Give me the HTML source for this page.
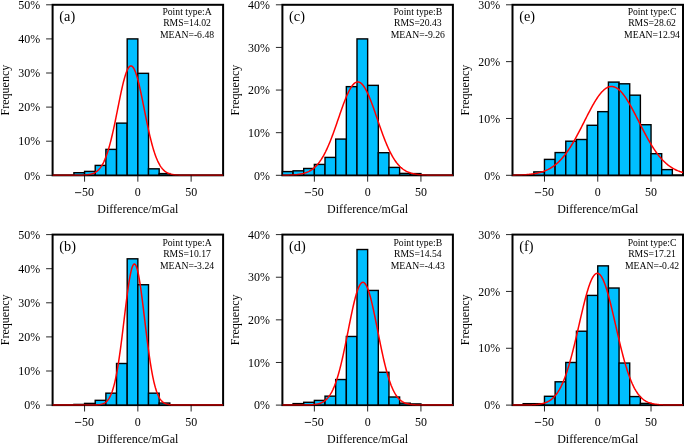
<!DOCTYPE html><html><head><meta charset="utf-8"><style>html,body{margin:0;padding:0;background:#fff;overflow:hidden}svg{display:block;will-change:transform}text{font-family:"Liberation Serif",serif;fill:#000}</style></head><body>
<svg width="685" height="444" viewBox="0 0 685 444">
<rect x="52.60" y="4.80" width="170.50" height="170.50" fill="none" stroke="#000" stroke-width="2"/>
<rect x="73.91" y="172.71" width="10.66" height="2.59" fill="#00bfff" stroke="#000" stroke-width="1.4"/>
<rect x="84.57" y="171.41" width="10.66" height="3.89" fill="#00bfff" stroke="#000" stroke-width="1.4"/>
<rect x="95.22" y="165.41" width="10.66" height="9.89" fill="#00bfff" stroke="#000" stroke-width="1.4"/>
<rect x="105.88" y="149.38" width="10.66" height="25.92" fill="#00bfff" stroke="#000" stroke-width="1.4"/>
<rect x="116.54" y="123.13" width="10.66" height="52.17" fill="#00bfff" stroke="#000" stroke-width="1.4"/>
<rect x="127.19" y="38.90" width="10.66" height="136.40" fill="#00bfff" stroke="#000" stroke-width="1.4"/>
<rect x="137.85" y="73.34" width="10.66" height="101.96" fill="#00bfff" stroke="#000" stroke-width="1.4"/>
<rect x="148.51" y="168.82" width="10.66" height="6.48" fill="#00bfff" stroke="#000" stroke-width="1.4"/>
<rect x="159.16" y="173.59" width="10.66" height="1.71" fill="#00bfff" stroke="#000" stroke-width="1.4"/>
<polyline points="52.60,175.30 53.13,175.30 53.67,175.30 54.20,175.30 54.73,175.30 55.26,175.30 55.80,175.30 56.33,175.30 56.86,175.30 57.40,175.30 57.93,175.30 58.46,175.30 58.99,175.30 59.53,175.30 60.06,175.30 60.59,175.30 61.12,175.30 61.66,175.30 62.19,175.30 62.72,175.30 63.26,175.30 63.79,175.30 64.32,175.30 64.85,175.30 65.39,175.30 65.92,175.30 66.45,175.30 66.99,175.30 67.52,175.30 68.05,175.30 68.58,175.30 69.12,175.30 69.65,175.30 70.18,175.30 70.72,175.30 71.25,175.30 71.78,175.29 72.31,175.29 72.85,175.29 73.38,175.29 73.91,175.29 74.45,175.29 74.98,175.29 75.51,175.28 76.04,175.28 76.58,175.28 77.11,175.27 77.64,175.27 78.18,175.26 78.71,175.25 79.24,175.25 79.77,175.24 80.31,175.23 80.84,175.21 81.37,175.20 81.90,175.18 82.44,175.17 82.97,175.14 83.50,175.12 84.04,175.09 84.57,175.06 85.10,175.03 85.63,174.98 86.17,174.94 86.70,174.89 87.23,174.83 87.77,174.76 88.30,174.68 88.83,174.60 89.36,174.51 89.90,174.40 90.43,174.28 90.96,174.15 91.50,174.00 92.03,173.84 92.56,173.65 93.09,173.45 93.63,173.23 94.16,172.98 94.69,172.71 95.22,172.41 95.76,172.08 96.29,171.72 96.82,171.33 97.36,170.90 97.89,170.43 98.42,169.92 98.95,169.37 99.49,168.77 100.02,168.12 100.55,167.42 101.09,166.67 101.62,165.86 102.15,164.99 102.68,164.05 103.22,163.05 103.75,161.99 104.28,160.86 104.82,159.65 105.35,158.37 105.88,157.02 106.41,155.59 106.95,154.09 107.48,152.50 108.01,150.84 108.55,149.10 109.08,147.27 109.61,145.37 110.14,143.40 110.68,141.35 111.21,139.22 111.74,137.02 112.28,134.76 112.81,132.43 113.34,130.04 113.87,127.60 114.41,125.10 114.94,122.56 115.47,119.98 116.00,117.36 116.54,114.72 117.07,112.07 117.60,109.40 118.14,106.73 118.67,104.07 119.20,101.43 119.73,98.81 120.27,96.22 120.80,93.68 121.33,91.20 121.87,88.78 122.40,86.43 122.93,84.17 123.46,82.00 124.00,79.94 124.53,77.98 125.06,76.15 125.60,74.44 126.13,72.88 126.66,71.45 127.19,70.18 127.73,69.06 128.26,68.10 128.79,67.31 129.33,66.69 129.86,66.25 130.39,65.97 130.92,65.88 131.46,65.96 131.99,66.22 132.52,66.65 133.05,67.26 133.59,68.03 134.12,68.98 134.65,70.08 135.19,71.34 135.72,72.76 136.25,74.31 136.78,76.01 137.32,77.83 137.85,79.78 138.38,81.83 138.92,83.99 139.45,86.25 139.98,88.59 140.51,91.00 141.05,93.48 141.58,96.02 142.11,98.60 142.65,101.21 143.18,103.86 143.71,106.52 144.24,109.19 144.78,111.85 145.31,114.51 145.84,117.15 146.38,119.77 146.91,122.35 147.44,124.90 147.97,127.40 148.51,129.85 149.04,132.24 149.57,134.58 150.10,136.85 150.64,139.05 151.17,141.18 151.70,143.24 152.24,145.22 152.77,147.12 153.30,148.95 153.83,150.70 154.37,152.37 154.90,153.96 155.43,155.47 155.97,156.91 156.50,158.27 157.03,159.55 157.56,160.76 158.10,161.90 158.63,162.97 159.16,163.98 159.70,164.91 160.23,165.79 160.76,166.60 161.29,167.36 161.83,168.07 162.36,168.72 162.89,169.32 163.43,169.88 163.96,170.39 164.49,170.86 165.02,171.30 165.56,171.69 166.09,172.06 166.62,172.39 167.15,172.69 167.69,172.96 168.22,173.21 168.75,173.44 169.29,173.64 169.82,173.82 170.35,173.99 170.88,174.14 171.42,174.27 171.95,174.39 172.48,174.50 173.02,174.59 173.55,174.68 174.08,174.75 174.61,174.82 175.15,174.88 175.68,174.93 176.21,174.98 176.75,175.02 177.28,175.06 177.81,175.09 178.34,175.12 178.88,175.14 179.41,175.16 179.94,175.18 180.47,175.20 181.01,175.21 181.54,175.23 182.07,175.24 182.61,175.25 183.14,175.25 183.67,175.26 184.20,175.27 184.74,175.27 185.27,175.28 185.80,175.28 186.34,175.28 186.87,175.29 187.40,175.29 187.93,175.29 188.47,175.29 189.00,175.29 189.53,175.29 190.07,175.29 190.60,175.30 191.13,175.30 191.66,175.30 192.20,175.30 192.73,175.30 193.26,175.30 193.80,175.30 194.33,175.30 194.86,175.30 195.39,175.30 195.93,175.30 196.46,175.30 196.99,175.30 197.53,175.30 198.06,175.30 198.59,175.30 199.12,175.30 199.66,175.30 200.19,175.30 200.72,175.30 201.25,175.30 201.79,175.30 202.32,175.30 202.85,175.30 203.39,175.30 203.92,175.30 204.45,175.30 204.98,175.30 205.52,175.30 206.05,175.30 206.58,175.30 207.12,175.30 207.65,175.30 208.18,175.30 208.71,175.30 209.25,175.30 209.78,175.30 210.31,175.30 210.85,175.30 211.38,175.30 211.91,175.30 212.44,175.30 212.98,175.30 213.51,175.30 214.04,175.30 214.57,175.30 215.11,175.30 215.64,175.30 216.17,175.30 216.71,175.30 217.24,175.30 217.77,175.30 218.30,175.30 218.84,175.30 219.37,175.30 219.90,175.30 220.44,175.30 220.97,175.30 221.50,175.30 222.03,175.30 222.57,175.30 223.10,175.30" fill="none" stroke="#f00" stroke-width="1.5" stroke-linejoin="round"/>
<line x1="52.60" y1="175.30" x2="223.10" y2="175.30" stroke="#000" stroke-width="1.4" opacity="0.45"/>
<line x1="46.10" y1="175.30" x2="52.60" y2="175.30" stroke="#000" stroke-width="0.85"/>
<text transform="translate(40.20,179.50) scale(0.965,1)" font-size="12.4" text-anchor="end">0%</text>
<line x1="46.10" y1="141.20" x2="52.60" y2="141.20" stroke="#000" stroke-width="0.85"/>
<text transform="translate(40.20,145.40) scale(0.965,1)" font-size="12.4" text-anchor="end">10%</text>
<line x1="46.10" y1="107.10" x2="52.60" y2="107.10" stroke="#000" stroke-width="0.85"/>
<text transform="translate(40.20,111.30) scale(0.965,1)" font-size="12.4" text-anchor="end">20%</text>
<line x1="46.10" y1="73.00" x2="52.60" y2="73.00" stroke="#000" stroke-width="0.85"/>
<text transform="translate(40.20,77.20) scale(0.965,1)" font-size="12.4" text-anchor="end">30%</text>
<line x1="46.10" y1="38.90" x2="52.60" y2="38.90" stroke="#000" stroke-width="0.85"/>
<text transform="translate(40.20,43.10) scale(0.965,1)" font-size="12.4" text-anchor="end">40%</text>
<line x1="46.10" y1="4.80" x2="52.60" y2="4.80" stroke="#000" stroke-width="0.85"/>
<text transform="translate(40.20,9.00) scale(0.965,1)" font-size="12.4" text-anchor="end">50%</text>
<line x1="84.57" y1="175.30" x2="84.57" y2="181.70" stroke="#000" stroke-width="0.85"/>
<text transform="translate(93.96,196.10) scale(0.965,1)" font-size="12.4" text-anchor="end">50</text>
<line x1="75.02" y1="192.65" x2="81.27" y2="192.65" stroke="#111" stroke-width="0.9"/>
<line x1="137.85" y1="175.30" x2="137.85" y2="181.70" stroke="#000" stroke-width="0.85"/>
<text transform="translate(137.85,196.10) scale(0.965,1)" font-size="12.4" text-anchor="middle">0</text>
<line x1="191.13" y1="175.30" x2="191.13" y2="181.70" stroke="#000" stroke-width="0.85"/>
<text transform="translate(191.13,196.10) scale(0.965,1)" font-size="12.4" text-anchor="middle">50</text>
<text x="137.85" y="213.20" font-size="12" text-anchor="middle">Difference/mGal</text>
<text x="0" y="0" font-size="12" text-anchor="middle" transform="translate(9.10,90.05) rotate(-90)">Frequency</text>
<text x="59.30" y="21.30" font-size="14.3">(a)</text>
<text x="187.00" y="15.20" font-size="9.7" text-anchor="middle">Point type:A</text>
<text x="187.00" y="26.40" font-size="9.7" text-anchor="middle">RMS=14.02</text>
<text x="187.00" y="37.90" font-size="9.7" text-anchor="middle">MEAN=-6.48</text>
<rect x="282.40" y="4.80" width="170.50" height="170.50" fill="none" stroke="#000" stroke-width="2"/>
<rect x="282.40" y="171.59" width="10.66" height="3.71" fill="#00bfff" stroke="#000" stroke-width="1.4"/>
<rect x="293.06" y="170.82" width="10.66" height="4.48" fill="#00bfff" stroke="#000" stroke-width="1.4"/>
<rect x="303.71" y="168.48" width="10.66" height="6.82" fill="#00bfff" stroke="#000" stroke-width="1.4"/>
<rect x="314.37" y="164.43" width="10.66" height="10.87" fill="#00bfff" stroke="#000" stroke-width="1.4"/>
<rect x="325.02" y="157.40" width="10.66" height="17.90" fill="#00bfff" stroke="#000" stroke-width="1.4"/>
<rect x="335.68" y="139.07" width="10.66" height="36.23" fill="#00bfff" stroke="#000" stroke-width="1.4"/>
<rect x="346.34" y="86.64" width="10.66" height="88.66" fill="#00bfff" stroke="#000" stroke-width="1.4"/>
<rect x="356.99" y="38.90" width="10.66" height="136.40" fill="#00bfff" stroke="#000" stroke-width="1.4"/>
<rect x="367.65" y="85.36" width="10.66" height="89.94" fill="#00bfff" stroke="#000" stroke-width="1.4"/>
<rect x="378.31" y="152.71" width="10.66" height="22.59" fill="#00bfff" stroke="#000" stroke-width="1.4"/>
<rect x="388.96" y="167.41" width="10.66" height="7.89" fill="#00bfff" stroke="#000" stroke-width="1.4"/>
<rect x="399.62" y="173.38" width="10.66" height="1.92" fill="#00bfff" stroke="#000" stroke-width="1.4"/>
<rect x="410.27" y="173.59" width="10.66" height="1.71" fill="#00bfff" stroke="#000" stroke-width="1.4"/>
<polyline points="282.40,175.25 282.93,175.25 283.47,175.24 284.00,175.23 284.53,175.22 285.06,175.22 285.60,175.21 286.13,175.20 286.66,175.19 287.20,175.17 287.73,175.16 288.26,175.15 288.79,175.13 289.33,175.11 289.86,175.10 290.39,175.08 290.92,175.05 291.46,175.03 291.99,175.00 292.52,174.97 293.06,174.94 293.59,174.91 294.12,174.87 294.65,174.83 295.19,174.79 295.72,174.74 296.25,174.69 296.79,174.63 297.32,174.57 297.85,174.51 298.38,174.44 298.92,174.36 299.45,174.28 299.98,174.19 300.52,174.10 301.05,174.00 301.58,173.89 302.11,173.77 302.65,173.65 303.18,173.52 303.71,173.37 304.25,173.22 304.78,173.06 305.31,172.89 305.84,172.70 306.38,172.50 306.91,172.29 307.44,172.07 307.97,171.83 308.51,171.58 309.04,171.32 309.57,171.03 310.11,170.73 310.64,170.42 311.17,170.08 311.70,169.73 312.24,169.35 312.77,168.96 313.30,168.55 313.84,168.11 314.37,167.65 314.90,167.17 315.43,166.67 315.97,166.14 316.50,165.58 317.03,165.00 317.57,164.39 318.10,163.76 318.63,163.10 319.16,162.41 319.70,161.69 320.23,160.94 320.76,160.16 321.30,159.36 321.83,158.52 322.36,157.65 322.89,156.75 323.43,155.82 323.96,154.85 324.49,153.86 325.02,152.83 325.56,151.78 326.09,150.69 326.62,149.57 327.16,148.42 327.69,147.24 328.22,146.03 328.75,144.79 329.29,143.53 329.82,142.23 330.35,140.91 330.89,139.56 331.42,138.19 331.95,136.80 332.48,135.38 333.02,133.94 333.55,132.48 334.08,131.00 334.62,129.51 335.15,128.00 335.68,126.48 336.21,124.95 336.75,123.41 337.28,121.86 337.81,120.31 338.35,118.75 338.88,117.20 339.41,115.65 339.94,114.10 340.48,112.56 341.01,111.03 341.54,109.51 342.07,108.01 342.61,106.52 343.14,105.05 343.67,103.61 344.21,102.19 344.74,100.80 345.27,99.44 345.80,98.12 346.34,96.83 346.87,95.58 347.40,94.37 347.94,93.20 348.47,92.08 349.00,91.01 349.53,89.99 350.07,89.02 350.60,88.10 351.13,87.25 351.67,86.45 352.20,85.71 352.73,85.03 353.26,84.42 353.80,83.87 354.33,83.39 354.86,82.97 355.40,82.63 355.93,82.35 356.46,82.14 356.99,82.00 357.53,81.93 358.06,81.93 358.59,82.00 359.12,82.15 359.66,82.36 360.19,82.64 360.72,82.99 361.26,83.41 361.79,83.89 362.32,84.44 362.85,85.06 363.39,85.74 363.92,86.48 364.45,87.28 364.99,88.14 365.52,89.06 366.05,90.03 366.58,91.05 367.12,92.12 367.65,93.25 368.18,94.41 368.72,95.63 369.25,96.88 369.78,98.17 370.31,99.50 370.85,100.86 371.38,102.25 371.91,103.67 372.45,105.11 372.98,106.58 373.51,108.06 374.04,109.57 374.58,111.09 375.11,112.62 375.64,114.16 376.17,115.71 376.71,117.26 377.24,118.82 377.77,120.37 378.31,121.92 378.84,123.47 379.37,125.01 379.90,126.54 380.44,128.06 380.97,129.57 381.50,131.06 382.04,132.54 382.57,134.00 383.10,135.43 383.63,136.85 384.17,138.25 384.70,139.62 385.23,140.96 385.77,142.28 386.30,143.58 386.83,144.84 387.36,146.08 387.90,147.29 388.43,148.47 388.96,149.62 389.50,150.73 390.03,151.82 390.56,152.88 391.09,153.90 391.63,154.89 392.16,155.85 392.69,156.78 393.22,157.68 393.76,158.55 394.29,159.39 394.82,160.20 395.36,160.97 395.89,161.72 396.42,162.44 396.95,163.13 397.49,163.79 398.02,164.42 398.55,165.03 399.09,165.60 399.62,166.16 400.15,166.69 400.68,167.19 401.22,167.67 401.75,168.13 402.28,168.56 402.82,168.98 403.35,169.37 403.88,169.74 404.41,170.10 404.95,170.43 405.48,170.75 406.01,171.04 406.55,171.33 407.08,171.59 407.61,171.84 408.14,172.08 408.68,172.30 409.21,172.51 409.74,172.71 410.27,172.89 410.81,173.07 411.34,173.23 411.87,173.38 412.41,173.52 412.94,173.66 413.47,173.78 414.00,173.90 414.54,174.00 415.07,174.10 415.60,174.20 416.14,174.28 416.67,174.37 417.20,174.44 417.73,174.51 418.27,174.57 418.80,174.63 419.33,174.69 419.87,174.74 420.40,174.79 420.93,174.83 421.46,174.87 422.00,174.91 422.53,174.94 423.06,174.97 423.60,175.00 424.13,175.03 424.66,175.05 425.19,175.08 425.73,175.10 426.26,175.12 426.79,175.13 427.32,175.15 427.86,175.16 428.39,175.18 428.92,175.19 429.46,175.20 429.99,175.21 430.52,175.22 431.05,175.23 431.59,175.23 432.12,175.24 432.65,175.25 433.19,175.25 433.72,175.26 434.25,175.26 434.78,175.26 435.32,175.27 435.85,175.27 436.38,175.27 436.92,175.28 437.45,175.28 437.98,175.28 438.51,175.28 439.05,175.29 439.58,175.29 440.11,175.29 440.65,175.29 441.18,175.29 441.71,175.29 442.24,175.29 442.78,175.29 443.31,175.29 443.84,175.29 444.38,175.30 444.91,175.30 445.44,175.30 445.97,175.30 446.51,175.30 447.04,175.30 447.57,175.30 448.10,175.30 448.64,175.30 449.17,175.30 449.70,175.30 450.24,175.30 450.77,175.30 451.30,175.30 451.83,175.30 452.37,175.30 452.90,175.30" fill="none" stroke="#f00" stroke-width="1.5" stroke-linejoin="round"/>
<line x1="282.40" y1="175.30" x2="452.90" y2="175.30" stroke="#000" stroke-width="1.4" opacity="0.45"/>
<line x1="275.90" y1="175.30" x2="282.40" y2="175.30" stroke="#000" stroke-width="0.85"/>
<text transform="translate(270.00,179.50) scale(0.965,1)" font-size="12.4" text-anchor="end">0%</text>
<line x1="275.90" y1="132.68" x2="282.40" y2="132.68" stroke="#000" stroke-width="0.85"/>
<text transform="translate(270.00,136.88) scale(0.965,1)" font-size="12.4" text-anchor="end">10%</text>
<line x1="275.90" y1="90.05" x2="282.40" y2="90.05" stroke="#000" stroke-width="0.85"/>
<text transform="translate(270.00,94.25) scale(0.965,1)" font-size="12.4" text-anchor="end">20%</text>
<line x1="275.90" y1="47.43" x2="282.40" y2="47.43" stroke="#000" stroke-width="0.85"/>
<text transform="translate(270.00,51.63) scale(0.965,1)" font-size="12.4" text-anchor="end">30%</text>
<line x1="275.90" y1="4.80" x2="282.40" y2="4.80" stroke="#000" stroke-width="0.85"/>
<text transform="translate(270.00,9.00) scale(0.965,1)" font-size="12.4" text-anchor="end">40%</text>
<line x1="314.37" y1="175.30" x2="314.37" y2="181.70" stroke="#000" stroke-width="0.85"/>
<text transform="translate(323.76,196.10) scale(0.965,1)" font-size="12.4" text-anchor="end">50</text>
<line x1="304.82" y1="192.65" x2="311.07" y2="192.65" stroke="#111" stroke-width="0.9"/>
<line x1="367.65" y1="175.30" x2="367.65" y2="181.70" stroke="#000" stroke-width="0.85"/>
<text transform="translate(367.65,196.10) scale(0.965,1)" font-size="12.4" text-anchor="middle">0</text>
<line x1="420.93" y1="175.30" x2="420.93" y2="181.70" stroke="#000" stroke-width="0.85"/>
<text transform="translate(420.93,196.10) scale(0.965,1)" font-size="12.4" text-anchor="middle">50</text>
<text x="367.65" y="213.20" font-size="12" text-anchor="middle">Difference/mGal</text>
<text x="0" y="0" font-size="12" text-anchor="middle" transform="translate(238.90,90.05) rotate(-90)">Frequency</text>
<text x="289.10" y="21.30" font-size="14.3">(c)</text>
<text x="417.80" y="15.20" font-size="9.7" text-anchor="middle">Point type:B</text>
<text x="417.80" y="26.40" font-size="9.7" text-anchor="middle">RMS=20.43</text>
<text x="417.80" y="37.90" font-size="9.7" text-anchor="middle">MEAN=-9.26</text>
<rect x="512.50" y="4.80" width="170.50" height="170.50" fill="none" stroke="#000" stroke-width="2"/>
<rect x="533.81" y="171.89" width="10.66" height="3.41" fill="#00bfff" stroke="#000" stroke-width="1.4"/>
<rect x="544.47" y="159.39" width="10.66" height="15.91" fill="#00bfff" stroke="#000" stroke-width="1.4"/>
<rect x="555.12" y="152.57" width="10.66" height="22.73" fill="#00bfff" stroke="#000" stroke-width="1.4"/>
<rect x="565.78" y="141.20" width="10.66" height="34.10" fill="#00bfff" stroke="#000" stroke-width="1.4"/>
<rect x="576.44" y="139.50" width="10.66" height="35.81" fill="#00bfff" stroke="#000" stroke-width="1.4"/>
<rect x="587.09" y="125.29" width="10.66" height="50.01" fill="#00bfff" stroke="#000" stroke-width="1.4"/>
<rect x="597.75" y="111.65" width="10.66" height="63.65" fill="#00bfff" stroke="#000" stroke-width="1.4"/>
<rect x="608.41" y="82.09" width="10.66" height="93.21" fill="#00bfff" stroke="#000" stroke-width="1.4"/>
<rect x="619.06" y="83.80" width="10.66" height="91.50" fill="#00bfff" stroke="#000" stroke-width="1.4"/>
<rect x="629.72" y="95.17" width="10.66" height="80.14" fill="#00bfff" stroke="#000" stroke-width="1.4"/>
<rect x="640.38" y="124.72" width="10.66" height="50.58" fill="#00bfff" stroke="#000" stroke-width="1.4"/>
<rect x="651.03" y="153.70" width="10.66" height="21.60" fill="#00bfff" stroke="#000" stroke-width="1.4"/>
<rect x="661.69" y="169.62" width="10.66" height="5.68" fill="#00bfff" stroke="#000" stroke-width="1.4"/>
<polyline points="512.50,175.18 513.03,175.17 513.57,175.16 514.10,175.15 514.63,175.14 515.16,175.13 515.70,175.12 516.23,175.11 516.76,175.09 517.30,175.08 517.83,175.06 518.36,175.05 518.89,175.03 519.43,175.01 519.96,174.99 520.49,174.97 521.02,174.95 521.56,174.93 522.09,174.90 522.62,174.87 523.16,174.85 523.69,174.82 524.22,174.79 524.75,174.75 525.29,174.72 525.82,174.68 526.35,174.64 526.89,174.60 527.42,174.56 527.95,174.51 528.48,174.46 529.02,174.41 529.55,174.35 530.08,174.30 530.62,174.24 531.15,174.17 531.68,174.11 532.21,174.04 532.75,173.96 533.28,173.88 533.81,173.80 534.35,173.72 534.88,173.63 535.41,173.53 535.94,173.43 536.48,173.33 537.01,173.22 537.54,173.10 538.08,172.98 538.61,172.86 539.14,172.73 539.67,172.59 540.21,172.45 540.74,172.30 541.27,172.14 541.80,171.98 542.34,171.81 542.87,171.63 543.40,171.44 543.94,171.25 544.47,171.05 545.00,170.84 545.53,170.62 546.07,170.40 546.60,170.16 547.13,169.91 547.67,169.66 548.20,169.40 548.73,169.12 549.26,168.84 549.80,168.54 550.33,168.24 550.86,167.92 551.40,167.59 551.93,167.25 552.46,166.90 552.99,166.54 553.53,166.16 554.06,165.77 554.59,165.37 555.12,164.96 555.66,164.53 556.19,164.09 556.72,163.64 557.26,163.17 557.79,162.69 558.32,162.19 558.85,161.69 559.39,161.16 559.92,160.62 560.45,160.07 560.99,159.50 561.52,158.92 562.05,158.32 562.58,157.71 563.12,157.08 563.65,156.44 564.18,155.78 564.72,155.11 565.25,154.42 565.78,153.72 566.31,153.00 566.85,152.27 567.38,151.52 567.91,150.75 568.45,149.97 568.98,149.18 569.51,148.37 570.04,147.55 570.58,146.72 571.11,145.87 571.64,145.00 572.17,144.13 572.71,143.24 573.24,142.33 573.77,141.42 574.31,140.49 574.84,139.55 575.37,138.60 575.90,137.64 576.44,136.67 576.97,135.69 577.50,134.70 578.04,133.70 578.57,132.69 579.10,131.67 579.63,130.65 580.17,129.62 580.70,128.59 581.23,127.55 581.77,126.50 582.30,125.46 582.83,124.41 583.36,123.35 583.90,122.30 584.43,121.24 584.96,120.19 585.50,119.14 586.03,118.08 586.56,117.03 587.09,115.99 587.63,114.95 588.16,113.91 588.69,112.88 589.23,111.86 589.76,110.84 590.29,109.83 590.82,108.84 591.36,107.85 591.89,106.88 592.42,105.92 592.95,104.97 593.49,104.03 594.02,103.12 594.55,102.21 595.09,101.33 595.62,100.46 596.15,99.61 596.68,98.78 597.22,97.98 597.75,97.19 598.28,96.43 598.82,95.68 599.35,94.97 599.88,94.27 600.41,93.61 600.95,92.97 601.48,92.35 602.01,91.76 602.55,91.21 603.08,90.68 603.61,90.17 604.14,89.70 604.68,89.26 605.21,88.85 605.74,88.48 606.27,88.13 606.81,87.82 607.34,87.53 607.87,87.28 608.41,87.07 608.94,86.89 609.47,86.74 610.00,86.62 610.54,86.54 611.07,86.49 611.60,86.48 612.14,86.50 612.67,86.56 613.20,86.65 613.73,86.77 614.27,86.93 614.80,87.12 615.33,87.34 615.87,87.60 616.40,87.89 616.93,88.21 617.46,88.56 618.00,88.95 618.53,89.37 619.06,89.81 619.60,90.29 620.13,90.80 620.66,91.34 621.19,91.90 621.73,92.50 622.26,93.12 622.79,93.77 623.33,94.44 623.86,95.14 624.39,95.86 624.92,96.61 625.46,97.38 625.99,98.17 626.52,98.98 627.05,99.81 627.59,100.67 628.12,101.54 628.65,102.43 629.19,103.33 629.72,104.26 630.25,105.19 630.78,106.15 631.32,107.11 631.85,108.09 632.38,109.08 632.92,110.08 633.45,111.08 633.98,112.10 634.51,113.13 635.05,114.16 635.58,115.20 636.11,116.24 636.65,117.29 637.18,118.34 637.71,119.39 638.24,120.44 638.78,121.50 639.31,122.55 639.84,123.61 640.38,124.66 640.91,125.71 641.44,126.76 641.97,127.80 642.51,128.84 643.04,129.87 643.57,130.90 644.10,131.92 644.64,132.93 645.17,133.94 645.70,134.94 646.24,135.92 646.77,136.90 647.30,137.87 647.83,138.83 648.37,139.78 648.90,140.71 649.43,141.64 649.97,142.55 650.50,143.45 651.03,144.34 651.56,145.21 652.10,146.07 652.63,146.92 653.16,147.75 653.70,148.57 654.23,149.37 654.76,150.16 655.29,150.94 655.83,151.70 656.36,152.44 656.89,153.17 657.42,153.89 657.96,154.59 658.49,155.27 659.02,155.94 659.56,156.60 660.09,157.24 660.62,157.86 661.15,158.47 661.69,159.06 662.22,159.64 662.75,160.20 663.29,160.75 663.82,161.29 664.35,161.81 664.88,162.31 665.42,162.81 665.95,163.28 666.48,163.75 667.02,164.20 667.55,164.64 668.08,165.06 668.61,165.47 669.15,165.87 669.68,166.25 670.21,166.62 670.75,166.98 671.28,167.33 671.81,167.67 672.34,168.00 672.88,168.31 673.41,168.61 673.94,168.91 674.48,169.19 675.01,169.46 675.54,169.72 676.07,169.97 676.61,170.22 677.14,170.45 677.67,170.67 678.20,170.89 678.74,171.10 679.27,171.30 679.80,171.49 680.34,171.67 680.87,171.85 681.40,172.02 681.93,172.18 682.47,172.33 683.00,172.48" fill="none" stroke="#f00" stroke-width="1.5" stroke-linejoin="round"/>
<line x1="512.50" y1="175.30" x2="683.00" y2="175.30" stroke="#000" stroke-width="1.4" opacity="0.45"/>
<line x1="506.00" y1="175.30" x2="512.50" y2="175.30" stroke="#000" stroke-width="0.85"/>
<text transform="translate(500.10,179.50) scale(0.965,1)" font-size="12.4" text-anchor="end">0%</text>
<line x1="506.00" y1="118.47" x2="512.50" y2="118.47" stroke="#000" stroke-width="0.85"/>
<text transform="translate(500.10,122.67) scale(0.965,1)" font-size="12.4" text-anchor="end">10%</text>
<line x1="506.00" y1="61.63" x2="512.50" y2="61.63" stroke="#000" stroke-width="0.85"/>
<text transform="translate(500.10,65.83) scale(0.965,1)" font-size="12.4" text-anchor="end">20%</text>
<line x1="506.00" y1="4.80" x2="512.50" y2="4.80" stroke="#000" stroke-width="0.85"/>
<text transform="translate(500.10,9.00) scale(0.965,1)" font-size="12.4" text-anchor="end">30%</text>
<line x1="544.47" y1="175.30" x2="544.47" y2="181.70" stroke="#000" stroke-width="0.85"/>
<text transform="translate(553.86,196.10) scale(0.965,1)" font-size="12.4" text-anchor="end">50</text>
<line x1="534.92" y1="192.65" x2="541.17" y2="192.65" stroke="#111" stroke-width="0.9"/>
<line x1="597.75" y1="175.30" x2="597.75" y2="181.70" stroke="#000" stroke-width="0.85"/>
<text transform="translate(597.75,196.10) scale(0.965,1)" font-size="12.4" text-anchor="middle">0</text>
<line x1="651.03" y1="175.30" x2="651.03" y2="181.70" stroke="#000" stroke-width="0.85"/>
<text transform="translate(651.03,196.10) scale(0.965,1)" font-size="12.4" text-anchor="middle">50</text>
<text x="597.75" y="213.20" font-size="12" text-anchor="middle">Difference/mGal</text>
<text x="0" y="0" font-size="12" text-anchor="middle" transform="translate(469.00,90.05) rotate(-90)">Frequency</text>
<text x="519.20" y="21.30" font-size="14.3">(e)</text>
<text x="652.00" y="15.20" font-size="9.7" text-anchor="middle">Point type:C</text>
<text x="652.00" y="26.40" font-size="9.7" text-anchor="middle">RMS=28.62</text>
<text x="652.00" y="37.90" font-size="9.7" text-anchor="middle">MEAN=12.94</text>
<rect x="52.60" y="234.60" width="170.50" height="170.50" fill="none" stroke="#000" stroke-width="2"/>
<rect x="73.91" y="404.42" width="10.66" height="0.68" fill="#00bfff" stroke="#000" stroke-width="1.4"/>
<rect x="84.57" y="403.40" width="10.66" height="1.70" fill="#00bfff" stroke="#000" stroke-width="1.4"/>
<rect x="95.22" y="400.33" width="10.66" height="4.77" fill="#00bfff" stroke="#000" stroke-width="1.4"/>
<rect x="105.88" y="393.17" width="10.66" height="11.94" fill="#00bfff" stroke="#000" stroke-width="1.4"/>
<rect x="116.54" y="363.50" width="10.66" height="41.60" fill="#00bfff" stroke="#000" stroke-width="1.4"/>
<rect x="127.19" y="258.81" width="10.66" height="146.29" fill="#00bfff" stroke="#000" stroke-width="1.4"/>
<rect x="137.85" y="284.73" width="10.66" height="120.37" fill="#00bfff" stroke="#000" stroke-width="1.4"/>
<rect x="148.51" y="393.17" width="10.66" height="11.94" fill="#00bfff" stroke="#000" stroke-width="1.4"/>
<rect x="159.16" y="403.05" width="10.66" height="2.05" fill="#00bfff" stroke="#000" stroke-width="1.4"/>
<polyline points="52.60,405.10 53.13,405.10 53.67,405.10 54.20,405.10 54.73,405.10 55.26,405.10 55.80,405.10 56.33,405.10 56.86,405.10 57.40,405.10 57.93,405.10 58.46,405.10 58.99,405.10 59.53,405.10 60.06,405.10 60.59,405.10 61.12,405.10 61.66,405.10 62.19,405.10 62.72,405.10 63.26,405.10 63.79,405.10 64.32,405.10 64.85,405.10 65.39,405.10 65.92,405.10 66.45,405.10 66.99,405.10 67.52,405.10 68.05,405.10 68.58,405.10 69.12,405.10 69.65,405.10 70.18,405.10 70.72,405.10 71.25,405.10 71.78,405.10 72.31,405.10 72.85,405.10 73.38,405.10 73.91,405.10 74.45,405.10 74.98,405.10 75.51,405.10 76.04,405.10 76.58,405.10 77.11,405.10 77.64,405.10 78.18,405.10 78.71,405.10 79.24,405.10 79.77,405.10 80.31,405.10 80.84,405.10 81.37,405.10 81.90,405.10 82.44,405.10 82.97,405.10 83.50,405.10 84.04,405.10 84.57,405.10 85.10,405.10 85.63,405.10 86.17,405.10 86.70,405.10 87.23,405.10 87.77,405.10 88.30,405.09 88.83,405.09 89.36,405.09 89.90,405.09 90.43,405.09 90.96,405.08 91.50,405.08 92.03,405.07 92.56,405.06 93.09,405.06 93.63,405.05 94.16,405.03 94.69,405.02 95.22,405.00 95.76,404.98 96.29,404.95 96.82,404.92 97.36,404.89 97.89,404.84 98.42,404.79 98.95,404.73 99.49,404.66 100.02,404.58 100.55,404.48 101.09,404.37 101.62,404.23 102.15,404.08 102.68,403.90 103.22,403.69 103.75,403.45 104.28,403.18 104.82,402.87 105.35,402.51 105.88,402.11 106.41,401.65 106.95,401.13 107.48,400.54 108.01,399.89 108.55,399.15 109.08,398.33 109.61,397.42 110.14,396.41 110.68,395.29 111.21,394.05 111.74,392.70 112.28,391.22 112.81,389.60 113.34,387.83 113.87,385.92 114.41,383.86 114.94,381.63 115.47,379.24 116.00,376.69 116.54,373.97 117.07,371.07 117.60,368.01 118.14,364.79 118.67,361.40 119.20,357.85 119.73,354.15 120.27,350.31 120.80,346.33 121.33,342.24 121.87,338.04 122.40,333.76 122.93,329.41 123.46,325.00 124.00,320.57 124.53,316.13 125.06,311.72 125.60,307.34 126.13,303.04 126.66,298.83 127.19,294.74 127.73,290.81 128.26,287.05 128.79,283.50 129.33,280.18 129.86,277.11 130.39,274.32 130.92,271.82 131.46,269.65 131.99,267.81 132.52,266.31 133.05,265.18 133.59,264.42 134.12,264.03 134.65,264.03 135.19,264.40 135.72,265.14 136.25,266.26 136.78,267.74 137.32,269.57 137.85,271.73 138.38,274.21 138.92,276.99 139.45,280.05 139.98,283.36 140.51,286.91 141.05,290.65 141.58,294.58 142.11,298.66 142.65,302.86 143.18,307.17 143.71,311.54 144.24,315.96 144.78,320.39 145.31,324.83 145.84,329.23 146.38,333.59 146.91,337.88 147.44,342.07 147.97,346.17 148.51,350.15 149.04,354.00 149.57,357.70 150.10,361.26 150.64,364.65 151.17,367.89 151.70,370.96 152.24,373.85 152.77,376.58 153.30,379.14 153.83,381.54 154.37,383.77 154.90,385.84 155.43,387.76 155.97,389.53 156.50,391.15 157.03,392.64 157.56,394.00 158.10,395.24 158.63,396.36 159.16,397.38 159.70,398.30 160.23,399.12 160.76,399.86 161.29,400.52 161.83,401.11 162.36,401.63 162.89,402.09 163.43,402.50 163.96,402.85 164.49,403.17 165.02,403.44 165.56,403.68 166.09,403.89 166.62,404.07 167.15,404.23 167.69,404.36 168.22,404.48 168.75,404.57 169.29,404.66 169.82,404.73 170.35,404.79 170.88,404.84 171.42,404.89 171.95,404.92 172.48,404.95 173.02,404.98 173.55,405.00 174.08,405.02 174.61,405.03 175.15,405.05 175.68,405.06 176.21,405.06 176.75,405.07 177.28,405.08 177.81,405.08 178.34,405.09 178.88,405.09 179.41,405.09 179.94,405.09 180.47,405.09 181.01,405.10 181.54,405.10 182.07,405.10 182.61,405.10 183.14,405.10 183.67,405.10 184.20,405.10 184.74,405.10 185.27,405.10 185.80,405.10 186.34,405.10 186.87,405.10 187.40,405.10 187.93,405.10 188.47,405.10 189.00,405.10 189.53,405.10 190.07,405.10 190.60,405.10 191.13,405.10 191.66,405.10 192.20,405.10 192.73,405.10 193.26,405.10 193.80,405.10 194.33,405.10 194.86,405.10 195.39,405.10 195.93,405.10 196.46,405.10 196.99,405.10 197.53,405.10 198.06,405.10 198.59,405.10 199.12,405.10 199.66,405.10 200.19,405.10 200.72,405.10 201.25,405.10 201.79,405.10 202.32,405.10 202.85,405.10 203.39,405.10 203.92,405.10 204.45,405.10 204.98,405.10 205.52,405.10 206.05,405.10 206.58,405.10 207.12,405.10 207.65,405.10 208.18,405.10 208.71,405.10 209.25,405.10 209.78,405.10 210.31,405.10 210.85,405.10 211.38,405.10 211.91,405.10 212.44,405.10 212.98,405.10 213.51,405.10 214.04,405.10 214.57,405.10 215.11,405.10 215.64,405.10 216.17,405.10 216.71,405.10 217.24,405.10 217.77,405.10 218.30,405.10 218.84,405.10 219.37,405.10 219.90,405.10 220.44,405.10 220.97,405.10 221.50,405.10 222.03,405.10 222.57,405.10 223.10,405.10" fill="none" stroke="#f00" stroke-width="1.5" stroke-linejoin="round"/>
<line x1="52.60" y1="405.10" x2="223.10" y2="405.10" stroke="#000" stroke-width="1.4" opacity="0.45"/>
<line x1="46.10" y1="405.10" x2="52.60" y2="405.10" stroke="#000" stroke-width="0.85"/>
<text transform="translate(40.20,409.30) scale(0.965,1)" font-size="12.4" text-anchor="end">0%</text>
<line x1="46.10" y1="371.00" x2="52.60" y2="371.00" stroke="#000" stroke-width="0.85"/>
<text transform="translate(40.20,375.20) scale(0.965,1)" font-size="12.4" text-anchor="end">10%</text>
<line x1="46.10" y1="336.90" x2="52.60" y2="336.90" stroke="#000" stroke-width="0.85"/>
<text transform="translate(40.20,341.10) scale(0.965,1)" font-size="12.4" text-anchor="end">20%</text>
<line x1="46.10" y1="302.80" x2="52.60" y2="302.80" stroke="#000" stroke-width="0.85"/>
<text transform="translate(40.20,307.00) scale(0.965,1)" font-size="12.4" text-anchor="end">30%</text>
<line x1="46.10" y1="268.70" x2="52.60" y2="268.70" stroke="#000" stroke-width="0.85"/>
<text transform="translate(40.20,272.90) scale(0.965,1)" font-size="12.4" text-anchor="end">40%</text>
<line x1="46.10" y1="234.60" x2="52.60" y2="234.60" stroke="#000" stroke-width="0.85"/>
<text transform="translate(40.20,238.80) scale(0.965,1)" font-size="12.4" text-anchor="end">50%</text>
<line x1="84.57" y1="405.10" x2="84.57" y2="411.50" stroke="#000" stroke-width="0.85"/>
<text transform="translate(93.96,425.90) scale(0.965,1)" font-size="12.4" text-anchor="end">50</text>
<line x1="75.02" y1="422.45" x2="81.27" y2="422.45" stroke="#111" stroke-width="0.9"/>
<line x1="137.85" y1="405.10" x2="137.85" y2="411.50" stroke="#000" stroke-width="0.85"/>
<text transform="translate(137.85,425.90) scale(0.965,1)" font-size="12.4" text-anchor="middle">0</text>
<line x1="191.13" y1="405.10" x2="191.13" y2="411.50" stroke="#000" stroke-width="0.85"/>
<text transform="translate(191.13,425.90) scale(0.965,1)" font-size="12.4" text-anchor="middle">50</text>
<text x="137.85" y="443.00" font-size="12" text-anchor="middle">Difference/mGal</text>
<text x="0" y="0" font-size="12" text-anchor="middle" transform="translate(9.10,319.85) rotate(-90)">Frequency</text>
<text x="59.30" y="251.10" font-size="14.3">(b)</text>
<text x="187.00" y="245.80" font-size="9.7" text-anchor="middle">Point type:A</text>
<text x="187.00" y="256.90" font-size="9.7" text-anchor="middle">RMS=10.17</text>
<text x="187.00" y="268.55" font-size="9.7" text-anchor="middle">MEAN=-3.24</text>
<rect x="282.40" y="234.60" width="170.50" height="170.50" fill="none" stroke="#000" stroke-width="2"/>
<rect x="293.06" y="403.61" width="10.66" height="1.49" fill="#00bfff" stroke="#000" stroke-width="1.4"/>
<rect x="303.71" y="402.29" width="10.66" height="2.81" fill="#00bfff" stroke="#000" stroke-width="1.4"/>
<rect x="314.37" y="400.41" width="10.66" height="4.69" fill="#00bfff" stroke="#000" stroke-width="1.4"/>
<rect x="325.02" y="396.15" width="10.66" height="8.95" fill="#00bfff" stroke="#000" stroke-width="1.4"/>
<rect x="335.68" y="379.53" width="10.66" height="25.57" fill="#00bfff" stroke="#000" stroke-width="1.4"/>
<rect x="346.34" y="336.47" width="10.66" height="68.63" fill="#00bfff" stroke="#000" stroke-width="1.4"/>
<rect x="356.99" y="249.52" width="10.66" height="155.58" fill="#00bfff" stroke="#000" stroke-width="1.4"/>
<rect x="367.65" y="290.44" width="10.66" height="114.66" fill="#00bfff" stroke="#000" stroke-width="1.4"/>
<rect x="378.31" y="372.28" width="10.66" height="32.82" fill="#00bfff" stroke="#000" stroke-width="1.4"/>
<rect x="388.96" y="397.00" width="10.66" height="8.10" fill="#00bfff" stroke="#000" stroke-width="1.4"/>
<rect x="399.62" y="403.18" width="10.66" height="1.92" fill="#00bfff" stroke="#000" stroke-width="1.4"/>
<rect x="410.27" y="403.91" width="10.66" height="1.19" fill="#00bfff" stroke="#000" stroke-width="1.4"/>
<polyline points="282.40,405.10 282.93,405.10 283.47,405.10 284.00,405.10 284.53,405.10 285.06,405.10 285.60,405.10 286.13,405.10 286.66,405.10 287.20,405.10 287.73,405.10 288.26,405.10 288.79,405.10 289.33,405.10 289.86,405.10 290.39,405.10 290.92,405.10 291.46,405.10 291.99,405.10 292.52,405.10 293.06,405.10 293.59,405.10 294.12,405.10 294.65,405.10 295.19,405.10 295.72,405.10 296.25,405.10 296.79,405.09 297.32,405.09 297.85,405.09 298.38,405.09 298.92,405.09 299.45,405.09 299.98,405.09 300.52,405.08 301.05,405.08 301.58,405.08 302.11,405.07 302.65,405.07 303.18,405.07 303.71,405.06 304.25,405.05 304.78,405.05 305.31,405.04 305.84,405.03 306.38,405.02 306.91,405.01 307.44,405.00 307.97,404.98 308.51,404.96 309.04,404.94 309.57,404.92 310.11,404.90 310.64,404.87 311.17,404.84 311.70,404.80 312.24,404.76 312.77,404.72 313.30,404.67 313.84,404.61 314.37,404.55 314.90,404.48 315.43,404.41 315.97,404.32 316.50,404.23 317.03,404.13 317.57,404.01 318.10,403.88 318.63,403.74 319.16,403.59 319.70,403.42 320.23,403.23 320.76,403.03 321.30,402.80 321.83,402.56 322.36,402.29 322.89,402.00 323.43,401.69 323.96,401.34 324.49,400.97 325.02,400.56 325.56,400.13 326.09,399.65 326.62,399.14 327.16,398.60 327.69,398.01 328.22,397.37 328.75,396.69 329.29,395.97 329.82,395.19 330.35,394.36 330.89,393.47 331.42,392.54 331.95,391.54 332.48,390.48 333.02,389.36 333.55,388.17 334.08,386.92 334.62,385.61 335.15,384.22 335.68,382.77 336.21,381.25 336.75,379.65 337.28,377.99 337.81,376.25 338.35,374.44 338.88,372.56 339.41,370.61 339.94,368.59 340.48,366.51 341.01,364.35 341.54,362.14 342.07,359.86 342.61,357.52 343.14,355.13 343.67,352.68 344.21,350.19 344.74,347.66 345.27,345.08 345.80,342.47 346.34,339.83 346.87,337.18 347.40,334.50 347.94,331.81 348.47,329.13 349.00,326.44 349.53,323.77 350.07,321.11 350.60,318.48 351.13,315.89 351.67,313.34 352.20,310.83 352.73,308.39 353.26,306.01 353.80,303.71 354.33,301.48 354.86,299.35 355.40,297.31 355.93,295.38 356.46,293.56 356.99,291.85 357.53,290.27 358.06,288.82 358.59,287.50 359.12,286.32 359.66,285.29 360.19,284.41 360.72,283.67 361.26,283.10 361.79,282.68 362.32,282.41 362.85,282.31 363.39,282.37 363.92,282.59 364.45,282.96 364.99,283.50 365.52,284.19 366.05,285.03 366.58,286.02 367.12,287.16 367.65,288.43 368.18,289.85 368.72,291.39 369.25,293.07 369.78,294.86 370.31,296.76 370.85,298.77 371.38,300.88 371.91,303.08 372.45,305.36 372.98,307.72 373.51,310.14 374.04,312.63 374.58,315.17 375.11,317.75 375.64,320.37 376.17,323.02 376.71,325.69 377.24,328.37 377.77,331.06 378.31,333.75 378.84,336.43 379.37,339.09 379.90,341.74 380.44,344.35 380.97,346.94 381.50,349.49 382.04,351.99 382.57,354.45 383.10,356.86 383.63,359.21 384.17,361.50 384.70,363.74 385.23,365.91 385.77,368.02 386.30,370.05 386.83,372.02 387.36,373.92 387.90,375.75 388.43,377.51 388.96,379.19 389.50,380.81 390.03,382.35 390.56,383.82 391.09,385.23 391.63,386.56 392.16,387.83 392.69,389.03 393.22,390.17 393.76,391.25 394.29,392.26 394.82,393.22 395.36,394.12 395.89,394.96 396.42,395.75 396.95,396.49 397.49,397.19 398.02,397.83 398.55,398.43 399.09,398.99 399.62,399.52 400.15,400.00 400.68,400.45 401.22,400.86 401.75,401.24 402.28,401.59 402.82,401.92 403.35,402.21 403.88,402.49 404.41,402.74 404.95,402.97 405.48,403.18 406.01,403.37 406.55,403.54 407.08,403.70 407.61,403.85 408.14,403.98 408.68,404.09 409.21,404.20 409.74,404.30 410.27,404.39 410.81,404.46 411.34,404.53 411.87,404.60 412.41,404.66 412.94,404.71 413.47,404.75 414.00,404.79 414.54,404.83 415.07,404.86 415.60,404.89 416.14,404.92 416.67,404.94 417.20,404.96 417.73,404.98 418.27,404.99 418.80,405.01 419.33,405.02 419.87,405.03 420.40,405.04 420.93,405.05 421.46,405.05 422.00,405.06 422.53,405.06 423.06,405.07 423.60,405.07 424.13,405.08 424.66,405.08 425.19,405.08 425.73,405.09 426.26,405.09 426.79,405.09 427.32,405.09 427.86,405.09 428.39,405.09 428.92,405.09 429.46,405.10 429.99,405.10 430.52,405.10 431.05,405.10 431.59,405.10 432.12,405.10 432.65,405.10 433.19,405.10 433.72,405.10 434.25,405.10 434.78,405.10 435.32,405.10 435.85,405.10 436.38,405.10 436.92,405.10 437.45,405.10 437.98,405.10 438.51,405.10 439.05,405.10 439.58,405.10 440.11,405.10 440.65,405.10 441.18,405.10 441.71,405.10 442.24,405.10 442.78,405.10 443.31,405.10 443.84,405.10 444.38,405.10 444.91,405.10 445.44,405.10 445.97,405.10 446.51,405.10 447.04,405.10 447.57,405.10 448.10,405.10 448.64,405.10 449.17,405.10 449.70,405.10 450.24,405.10 450.77,405.10 451.30,405.10 451.83,405.10 452.37,405.10 452.90,405.10" fill="none" stroke="#f00" stroke-width="1.5" stroke-linejoin="round"/>
<line x1="282.40" y1="405.10" x2="452.90" y2="405.10" stroke="#000" stroke-width="1.4" opacity="0.45"/>
<line x1="275.90" y1="405.10" x2="282.40" y2="405.10" stroke="#000" stroke-width="0.85"/>
<text transform="translate(270.00,409.30) scale(0.965,1)" font-size="12.4" text-anchor="end">0%</text>
<line x1="275.90" y1="362.48" x2="282.40" y2="362.48" stroke="#000" stroke-width="0.85"/>
<text transform="translate(270.00,366.68) scale(0.965,1)" font-size="12.4" text-anchor="end">10%</text>
<line x1="275.90" y1="319.85" x2="282.40" y2="319.85" stroke="#000" stroke-width="0.85"/>
<text transform="translate(270.00,324.05) scale(0.965,1)" font-size="12.4" text-anchor="end">20%</text>
<line x1="275.90" y1="277.23" x2="282.40" y2="277.23" stroke="#000" stroke-width="0.85"/>
<text transform="translate(270.00,281.43) scale(0.965,1)" font-size="12.4" text-anchor="end">30%</text>
<line x1="275.90" y1="234.60" x2="282.40" y2="234.60" stroke="#000" stroke-width="0.85"/>
<text transform="translate(270.00,238.80) scale(0.965,1)" font-size="12.4" text-anchor="end">40%</text>
<line x1="314.37" y1="405.10" x2="314.37" y2="411.50" stroke="#000" stroke-width="0.85"/>
<text transform="translate(323.76,425.90) scale(0.965,1)" font-size="12.4" text-anchor="end">50</text>
<line x1="304.82" y1="422.45" x2="311.07" y2="422.45" stroke="#111" stroke-width="0.9"/>
<line x1="367.65" y1="405.10" x2="367.65" y2="411.50" stroke="#000" stroke-width="0.85"/>
<text transform="translate(367.65,425.90) scale(0.965,1)" font-size="12.4" text-anchor="middle">0</text>
<line x1="420.93" y1="405.10" x2="420.93" y2="411.50" stroke="#000" stroke-width="0.85"/>
<text transform="translate(420.93,425.90) scale(0.965,1)" font-size="12.4" text-anchor="middle">50</text>
<text x="367.65" y="443.00" font-size="12" text-anchor="middle">Difference/mGal</text>
<text x="0" y="0" font-size="12" text-anchor="middle" transform="translate(238.90,319.85) rotate(-90)">Frequency</text>
<text x="289.10" y="251.10" font-size="14.3">(d)</text>
<text x="417.80" y="245.80" font-size="9.7" text-anchor="middle">Point type:B</text>
<text x="417.80" y="256.90" font-size="9.7" text-anchor="middle">RMS=14.54</text>
<text x="417.80" y="268.55" font-size="9.7" text-anchor="middle">MEAN=-4.43</text>
<rect x="512.50" y="234.60" width="170.50" height="170.50" fill="none" stroke="#000" stroke-width="2"/>
<rect x="523.16" y="403.68" width="10.66" height="1.42" fill="#00bfff" stroke="#000" stroke-width="1.4"/>
<rect x="533.81" y="403.68" width="10.66" height="1.42" fill="#00bfff" stroke="#000" stroke-width="1.4"/>
<rect x="544.47" y="396.29" width="10.66" height="8.81" fill="#00bfff" stroke="#000" stroke-width="1.4"/>
<rect x="555.12" y="381.80" width="10.66" height="23.30" fill="#00bfff" stroke="#000" stroke-width="1.4"/>
<rect x="565.78" y="362.48" width="10.66" height="42.62" fill="#00bfff" stroke="#000" stroke-width="1.4"/>
<rect x="576.44" y="331.22" width="10.66" height="73.88" fill="#00bfff" stroke="#000" stroke-width="1.4"/>
<rect x="587.09" y="295.41" width="10.66" height="109.69" fill="#00bfff" stroke="#000" stroke-width="1.4"/>
<rect x="597.75" y="265.86" width="10.66" height="139.24" fill="#00bfff" stroke="#000" stroke-width="1.4"/>
<rect x="608.41" y="288.02" width="10.66" height="117.08" fill="#00bfff" stroke="#000" stroke-width="1.4"/>
<rect x="619.06" y="363.04" width="10.66" height="42.06" fill="#00bfff" stroke="#000" stroke-width="1.4"/>
<rect x="629.72" y="396.58" width="10.66" height="8.52" fill="#00bfff" stroke="#000" stroke-width="1.4"/>
<rect x="640.38" y="403.40" width="10.66" height="1.70" fill="#00bfff" stroke="#000" stroke-width="1.4"/>
<polyline points="512.50,405.10 513.03,405.10 513.57,405.10 514.10,405.10 514.63,405.09 515.16,405.09 515.70,405.09 516.23,405.09 516.76,405.09 517.30,405.09 517.83,405.09 518.36,405.09 518.89,405.09 519.43,405.08 519.96,405.08 520.49,405.08 521.02,405.08 521.56,405.07 522.09,405.07 522.62,405.07 523.16,405.06 523.69,405.06 524.22,405.05 524.75,405.05 525.29,405.04 525.82,405.03 526.35,405.03 526.89,405.02 527.42,405.01 527.95,405.00 528.48,404.99 529.02,404.97 529.55,404.96 530.08,404.94 530.62,404.92 531.15,404.90 531.68,404.88 532.21,404.86 532.75,404.83 533.28,404.80 533.81,404.77 534.35,404.74 534.88,404.70 535.41,404.66 535.94,404.61 536.48,404.56 537.01,404.51 537.54,404.45 538.08,404.39 538.61,404.32 539.14,404.24 539.67,404.16 540.21,404.07 540.74,403.97 541.27,403.86 541.80,403.75 542.34,403.63 542.87,403.49 543.40,403.35 543.94,403.19 544.47,403.03 545.00,402.85 545.53,402.65 546.07,402.45 546.60,402.22 547.13,401.98 547.67,401.73 548.20,401.45 548.73,401.16 549.26,400.84 549.80,400.51 550.33,400.15 550.86,399.77 551.40,399.37 551.93,398.94 552.46,398.48 552.99,397.99 553.53,397.48 554.06,396.94 554.59,396.36 555.12,395.75 555.66,395.11 556.19,394.43 556.72,393.72 557.26,392.97 557.79,392.18 558.32,391.35 558.85,390.48 559.39,389.57 559.92,388.61 560.45,387.62 560.99,386.57 561.52,385.48 562.05,384.35 562.58,383.16 563.12,381.93 563.65,380.65 564.18,379.32 564.72,377.94 565.25,376.52 565.78,375.04 566.31,373.51 566.85,371.94 567.38,370.31 567.91,368.64 568.45,366.91 568.98,365.14 569.51,363.33 570.04,361.46 570.58,359.56 571.11,357.61 571.64,355.61 572.17,353.58 572.71,351.51 573.24,349.40 573.77,347.26 574.31,345.09 574.84,342.89 575.37,340.66 575.90,338.41 576.44,336.14 576.97,333.85 577.50,331.54 578.04,329.23 578.57,326.91 579.10,324.59 579.63,322.27 580.17,319.95 580.70,317.64 581.23,315.35 581.77,313.07 582.30,310.82 582.83,308.59 583.36,306.39 583.90,304.23 584.43,302.11 584.96,300.03 585.50,298.00 586.03,296.02 586.56,294.10 587.09,292.24 587.63,290.45 588.16,288.73 588.69,287.08 589.23,285.51 589.76,284.02 590.29,282.61 590.82,281.29 591.36,280.07 591.89,278.94 592.42,277.90 592.95,276.97 593.49,276.14 594.02,275.41 594.55,274.79 595.09,274.28 595.62,273.87 596.15,273.58 596.68,273.39 597.22,273.32 597.75,273.36 598.28,273.50 598.82,273.76 599.35,274.13 599.88,274.61 600.41,275.20 600.95,275.89 601.48,276.69 602.01,277.59 602.55,278.60 603.08,279.70 603.61,280.89 604.14,282.18 604.68,283.56 605.21,285.02 605.74,286.57 606.27,288.19 606.81,289.89 607.34,291.66 607.87,293.50 608.41,295.40 608.94,297.36 609.47,299.37 610.00,301.44 610.54,303.55 611.07,305.70 611.60,307.88 612.14,310.10 612.67,312.35 613.20,314.62 613.73,316.91 614.27,319.21 614.80,321.53 615.33,323.85 615.87,326.17 616.40,328.49 616.93,330.81 617.46,333.11 618.00,335.41 618.53,337.68 619.06,339.94 619.60,342.18 620.13,344.39 620.66,346.57 621.19,348.72 621.73,350.84 622.26,352.92 622.79,354.97 623.33,356.97 623.86,358.94 624.39,360.86 624.92,362.74 625.46,364.57 625.99,366.35 626.52,368.09 627.05,369.78 627.59,371.42 628.12,373.01 628.65,374.56 629.19,376.05 629.72,377.49 630.25,378.89 630.78,380.23 631.32,381.53 631.85,382.77 632.38,383.97 632.92,385.12 633.45,386.23 633.98,387.29 634.51,388.30 635.05,389.27 635.58,390.19 636.11,391.08 636.65,391.92 637.18,392.72 637.71,393.49 638.24,394.21 638.78,394.90 639.31,395.55 639.84,396.17 640.38,396.76 640.91,397.31 641.44,397.83 641.97,398.33 642.51,398.79 643.04,399.23 643.57,399.64 644.10,400.03 644.64,400.40 645.17,400.74 645.70,401.06 646.24,401.36 646.77,401.64 647.30,401.90 647.83,402.15 648.37,402.38 648.90,402.59 649.43,402.79 649.97,402.97 650.50,403.14 651.03,403.30 651.56,403.45 652.10,403.59 652.63,403.71 653.16,403.83 653.70,403.94 654.23,404.04 654.76,404.13 655.29,404.21 655.83,404.29 656.36,404.36 656.89,404.43 657.42,404.49 657.96,404.55 658.49,404.60 659.02,404.64 659.56,404.69 660.09,404.73 660.62,404.76 661.15,404.79 661.69,404.82 662.22,404.85 662.75,404.87 663.29,404.90 663.82,404.92 664.35,404.94 664.88,404.95 665.42,404.97 665.95,404.98 666.48,404.99 667.02,405.00 667.55,405.01 668.08,405.02 668.61,405.03 669.15,405.04 669.68,405.05 670.21,405.05 670.75,405.06 671.28,405.06 671.81,405.07 672.34,405.07 672.88,405.07 673.41,405.08 673.94,405.08 674.48,405.08 675.01,405.08 675.54,405.09 676.07,405.09 676.61,405.09 677.14,405.09 677.67,405.09 678.20,405.09 678.74,405.09 679.27,405.09 679.80,405.09 680.34,405.10 680.87,405.10 681.40,405.10 681.93,405.10 682.47,405.10 683.00,405.10" fill="none" stroke="#f00" stroke-width="1.5" stroke-linejoin="round"/>
<line x1="512.50" y1="405.10" x2="683.00" y2="405.10" stroke="#000" stroke-width="1.4" opacity="0.45"/>
<line x1="506.00" y1="405.10" x2="512.50" y2="405.10" stroke="#000" stroke-width="0.85"/>
<text transform="translate(500.10,409.30) scale(0.965,1)" font-size="12.4" text-anchor="end">0%</text>
<line x1="506.00" y1="348.27" x2="512.50" y2="348.27" stroke="#000" stroke-width="0.85"/>
<text transform="translate(500.10,352.47) scale(0.965,1)" font-size="12.4" text-anchor="end">10%</text>
<line x1="506.00" y1="291.43" x2="512.50" y2="291.43" stroke="#000" stroke-width="0.85"/>
<text transform="translate(500.10,295.63) scale(0.965,1)" font-size="12.4" text-anchor="end">20%</text>
<line x1="506.00" y1="234.60" x2="512.50" y2="234.60" stroke="#000" stroke-width="0.85"/>
<text transform="translate(500.10,238.80) scale(0.965,1)" font-size="12.4" text-anchor="end">30%</text>
<line x1="544.47" y1="405.10" x2="544.47" y2="411.50" stroke="#000" stroke-width="0.85"/>
<text transform="translate(553.86,425.90) scale(0.965,1)" font-size="12.4" text-anchor="end">50</text>
<line x1="534.92" y1="422.45" x2="541.17" y2="422.45" stroke="#111" stroke-width="0.9"/>
<line x1="597.75" y1="405.10" x2="597.75" y2="411.50" stroke="#000" stroke-width="0.85"/>
<text transform="translate(597.75,425.90) scale(0.965,1)" font-size="12.4" text-anchor="middle">0</text>
<line x1="651.03" y1="405.10" x2="651.03" y2="411.50" stroke="#000" stroke-width="0.85"/>
<text transform="translate(651.03,425.90) scale(0.965,1)" font-size="12.4" text-anchor="middle">50</text>
<text x="597.75" y="443.00" font-size="12" text-anchor="middle">Difference/mGal</text>
<text x="0" y="0" font-size="12" text-anchor="middle" transform="translate(469.00,319.85) rotate(-90)">Frequency</text>
<text x="519.20" y="251.10" font-size="14.3">(f)</text>
<text x="652.00" y="245.80" font-size="9.7" text-anchor="middle">Point type:C</text>
<text x="652.00" y="256.90" font-size="9.7" text-anchor="middle">RMS=17.21</text>
<text x="652.00" y="268.55" font-size="9.7" text-anchor="middle">MEAN=-0.42</text>
</svg></body></html>
